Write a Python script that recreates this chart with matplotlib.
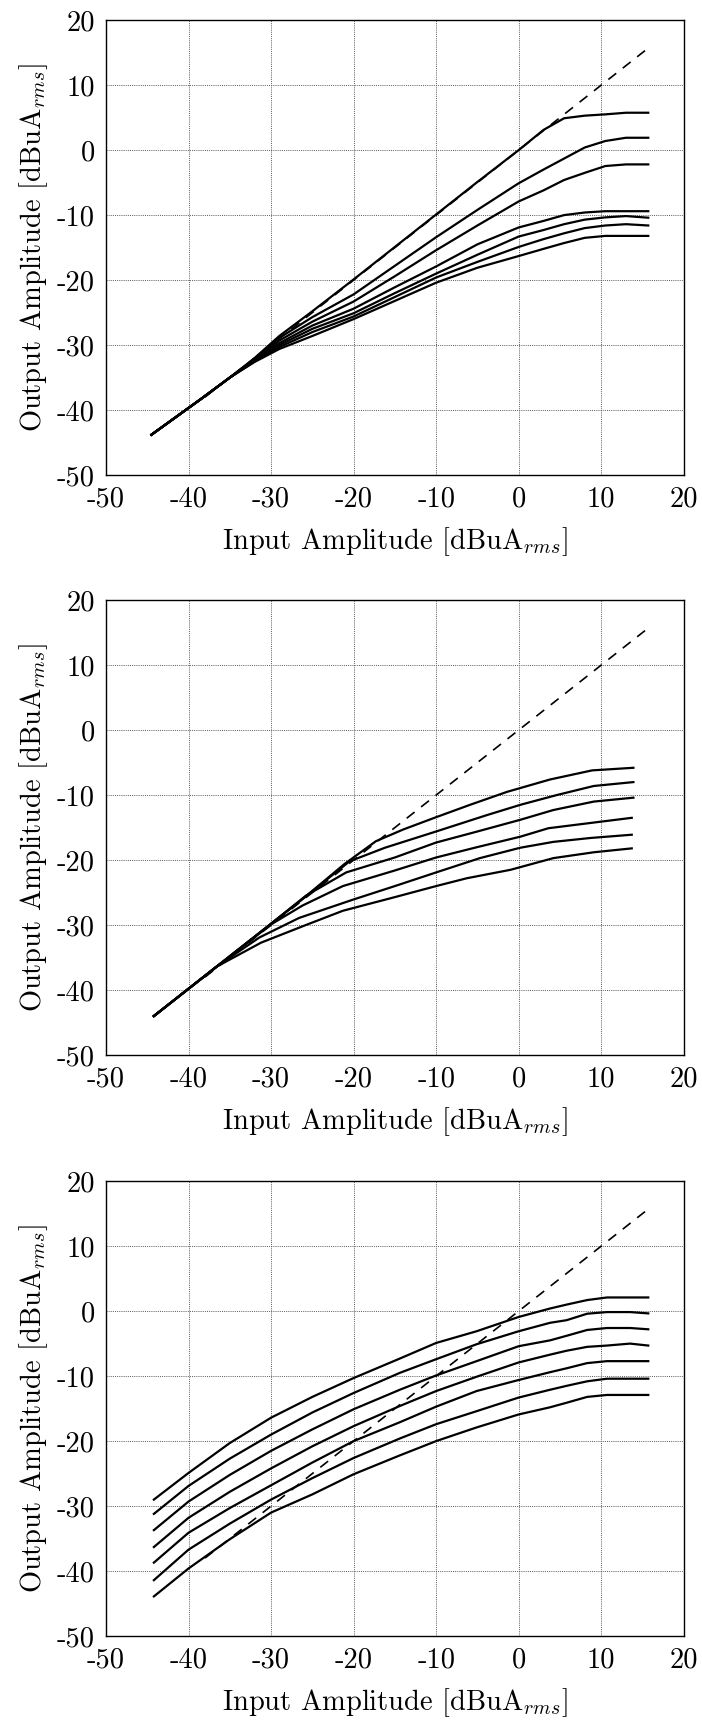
import matplotlib
matplotlib.use("Agg")
import matplotlib.pyplot as plt

plt.rcParams["font.family"] = "serif"
plt.rcParams["font.serif"] = ["cmr10", "DejaVu Serif"]
plt.rcParams["mathtext.fontset"] = "cm"
plt.rcParams["axes.unicode_minus"] = False
plt.rcParams["axes.formatter.use_mathtext"] = False

# reference line y = x
dash_x = [-38.0, 15.8]

# panel 1
p1_x = [-44.5, -38.5, -35, -32, -29, -25, -20, -15, -10, -5, 0, 3, 5.5, 8, 10.5, 13, 15.7]
p1_curves = [
    [-43.8, -38.3, -35.0, -32.0, -28.6, -24.8, -19.9, -14.9, -9.9, -4.9, 0.0, 3.1, 4.9, 5.3, 5.5, 5.75, 5.75],
    [-43.8, -38.3, -35.0, -32.1, -28.9, -25.7, -22.2, -17.8, -13.4, -9.2, -5.1, -3.0, -1.3, 0.4, 1.4, 1.9, 1.9],
    [-43.8, -38.3, -35.0, -32.2, -29.3, -26.4, -23.3, -19.4, -15.4, -11.6, -7.9, -6.2, -4.6, -3.5, -2.45, -2.2, -2.2],
    [-43.8, -38.3, -35.0, -32.3, -29.7, -27.0, -24.4, -21.1, -17.9, -14.5, -11.9, -10.9, -10.0, -9.6, -9.4, -9.4, -9.4],
    [-43.8, -38.3, -35.0, -32.4, -30.0, -27.5, -25.1, -22.0, -19.0, -16.1, -13.3, -12.3, -11.4, -10.7, -10.35, -10.15, -10.4],
    [-43.8, -38.3, -35.0, -32.5, -30.3, -28.0, -25.6, -22.6, -19.6, -17.2, -14.9, -13.7, -12.8, -12.0, -11.6, -11.4, -11.6],
    [-43.8, -38.3, -35.0, -32.6, -30.6, -28.6, -26.0, -23.2, -20.4, -18.1, -16.3, -15.2, -14.3, -13.5, -13.2, -13.2, -13.2],
]

# panel 2 (each curve has its own breakpoints)
p2_xs = [
    [-44.2, -36.6, -30, -26, -21.1, -17.3, -14, -10, -5.9, -1.4, 3.8, 8.9, 13.9],
    [-44.2, -36.6, -30, -26, -20.5, -16.2, -10, -3.9, 0.2, 4.6, 9.1, 13.9],
    [-44.2, -36.6, -30, -25.8, -20.9, -15, -10, -5, 0.2, 4.2, 9.1, 13.9],
    [-44.2, -36.6, -30, -26.2, -21.3, -15, -10, -5, 0.2, 3.6, 9.9, 13.7],
    [-44.2, -36.6, -31.4, -26.6, -20.1, -15, -10, -4.7, 0.2, 4.2, 8.7, 13.7],
    [-44.2, -36.6, -31.2, -26, -21.3, -15, -10, -6.3, -1, 4.2, 9.1, 13.7],
]
p2_ys = [
    [-44.0, -36.4, -29.8, -25.8, -20.6, -17.1, -15.3, -13.4, -11.5, -9.5, -7.6, -6.2, -5.8],
    [-44.0, -36.4, -29.8, -25.8, -20.2, -18.1, -15.6, -13.1, -11.5, -10.0, -8.6, -8.0],
    [-44.0, -36.4, -29.8, -25.5, -21.9, -19.6, -17.3, -15.6, -13.8, -12.3, -11.0, -10.4],
    [-44.0, -36.4, -29.9, -27.0, -24.0, -21.6, -19.6, -18.0, -16.4, -15.1, -14.1, -13.5],
    [-44.0, -36.4, -31.9, -28.9, -26.1, -24.0, -21.9, -19.7, -18.1, -17.2, -16.6, -16.1],
    [-44.0, -36.4, -32.7, -30.1, -27.8, -25.7, -24.0, -22.8, -21.5, -19.7, -18.8, -18.2],
]

# panel 3
p3_x = [-44.2, -40, -35, -30, -25, -20, -14.4, -10, -5.1, 0, 3.8, 5.8, 8.3, 10.7, 13.5, 15.7]
p3_curves = [
    [-29.0, -24.9, -20.3, -16.4, -13.2, -10.3, -7.3, -4.9, -3.1, -0.9, 0.4, 1.0, 1.7, 2.1, 2.1, 2.1],
    [-31.2, -26.9, -22.7, -19.0, -15.6, -12.6, -9.5, -7.4, -5.1, -3.1, -1.8, -1.4, -0.4, -0.15, -0.15, -0.35],
    [-33.7, -29.3, -25.2, -21.5, -18.2, -15.1, -12.1, -9.9, -7.7, -5.4, -4.5, -3.8, -2.9, -2.6, -2.6, -2.8],
    [-36.3, -31.8, -27.8, -24.2, -20.8, -17.7, -14.6, -12.3, -10.1, -7.9, -6.7, -6.1, -5.5, -5.3, -5.0, -5.3],
    [-38.7, -34.1, -30.3, -26.8, -23.3, -20.0, -17.1, -14.7, -12.3, -10.6, -9.4, -8.8, -8.0, -7.7, -7.7, -7.7],
    [-41.4, -36.7, -32.7, -29.0, -25.7, -22.6, -19.6, -17.4, -15.4, -13.3, -12.1, -11.5, -10.8, -10.4, -10.4, -10.4],
    [-43.9, -39.6, -35.1, -31.0, -28.2, -25.1, -22.2, -20.0, -17.9, -15.9, -14.8, -14.1, -13.2, -12.9, -12.9, -12.9],
]

xticks = [-50, -40, -30, -20, -10, 0, 10, 20]
yticks = [-50, -40, -30, -20, -10, 0, 10, 20]

fig = plt.figure(figsize=(7.02, 17.20), dpi=100)
left, width, height = 0.151, 0.823, 0.2645
bottoms = [0.7238, 0.3866, 0.0488]
axes = [fig.add_axes([left, b, width, height]) for b in bottoms]


def style_axis(ax):
    ax.set_xlim(-50, 20)
    ax.set_ylim(-50, 20)
    ax.set_xticks(xticks)
    ax.set_yticks(yticks)
    ax.grid(True, color="0.35", linestyle=(0, (1, 1.2)), linewidth=0.7)
    ax.set_axisbelow(True)
    ax.tick_params(direction="in", length=0, labelsize=20.5, pad=8)
    for sp in ax.spines.values():
        sp.set_linewidth(1.0)
        sp.set_color("black")
    ax.set_xlabel(r"Input Amplitude [dBuA$_{rms}$]", fontsize=20.5, labelpad=9)
    ax.set_ylabel(r"Output Amplitude [dBuA$_{rms}$]", fontsize=20.5, labelpad=5)


line_kw = dict(color="black", linewidth=1.6, solid_joinstyle="round")
dash_kw = dict(color="black", linewidth=1.2, dashes=(6, 5))

ax = axes[0]
ax.plot(dash_x, dash_x, **dash_kw)
for ys in p1_curves:
    ax.plot(p1_x, ys, **line_kw)
style_axis(ax)

ax = axes[1]
ax.plot(dash_x, dash_x, **dash_kw)
for xs, ys in zip(p2_xs, p2_ys):
    ax.plot(xs, ys, **line_kw)
style_axis(ax)

ax = axes[2]
ax.plot(dash_x, dash_x, **dash_kw)
for ys in p3_curves:
    ax.plot(p3_x, ys, **line_kw)
style_axis(ax)

fig.savefig("out.png", dpi=100)
